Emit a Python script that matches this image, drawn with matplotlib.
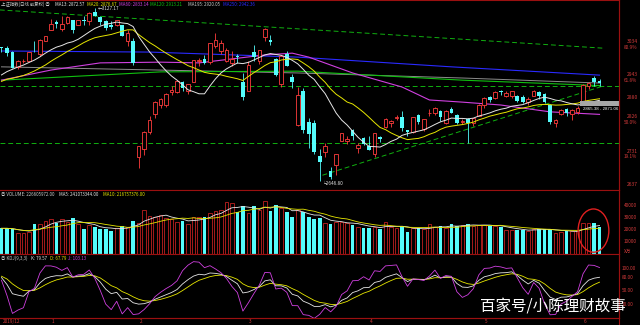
import numpy as np
import pandas as pd
import matplotlib
matplotlib.use('Agg')
import matplotlib.pyplot as plt
from matplotlib.patches import Rectangle, Ellipse
import matplotlib.transforms as mtransforms

plt.rcParams['font.family'] = ['Noto Sans CJK SC', 'DejaVu Sans']

# 上证指数 日线 2019-12-19 ~ 2020-06-04
opens = [3020, 3018, 3006, 2964, 2980, 2982, 3006, 3000, 3036,
         3067, 3089, 3070, 3086, 3094, 3082, 3095, 3091, 3117, 3103, 3091, 3080, 3080, 3081, 3038, 3037,
         2716, 2738, 2784, 2833, 2860, 2859, 2894, 2895, 2923, 2899, 2924, 2981, 2986, 2979, 3023, 3010,
         2982, 2975, 2996, 2924,
         2899, 3006, 2981, 3047, 3039, 2987, 2918, 3001, 2936, 2804, 2899, 2813, 2808, 2718, 2729, 2675,
         2692, 2759, 2759, 2790, 2739, 2767,
         2744, 2723, 2771, 2799, 2808, 2823, 2826, 2790, 2785, 2831, 2793, 2836, 2838, 2843, 2809, 2848,
         2832, 2813, 2819, 2808, 2829,
         2860, 2880, 2879, 2898, 2885, 2885, 2884, 2880, 2867, 2885, 2896, 2890, 2858, 2808, 2833, 2847,
         2835, 2840,
         2863, 2911, 2933, 2925]
highs = [3021, 3024, 3009, 2983, 2988, 3007, 3036, 3041, 3051,
         3098, 3094, 3107, 3105, 3095, 3096, 3105, 3116, 3127.17, 3105, 3094, 3091, 3096, 3081, 3066, 3045,
         2746, 2786, 2829, 2871, 2879, 2891, 2912, 2927, 2926, 2918, 2983, 2990, 2999, 3031, 3059, 3040,
         3016, 3008, 3000, 2949,
         2982, 3026, 3011, 3074, 3053, 2989, 2998, 3010, 2944, 2910, 2906, 2824, 2818, 2736, 2753, 2687,
         2723, 2781, 2773, 2791, 2754, 2771,
         2772, 2780, 2772, 2822, 2816, 2830, 2842, 2790, 2827, 2834, 2821, 2847, 2853, 2844, 2846, 2853,
         2835, 2821, 2823, 2824, 2861,
         2880, 2883, 2898, 2902, 2898, 2899, 2886, 2886, 2880, 2902, 2897, 2893, 2861, 2820, 2847, 2850,
         2848, 2855,
         2917, 2922, 2940, 2931]
lows = [3007, 2994, 2961, 2960, 2975, 2981, 3005, 2996, 3036,
        3066, 3074, 3065, 3084, 3059, 3080, 3082, 3082, 3105, 3082, 3067, 3070, 3078, 3051, 3023, 2970,
        2685, 2720, 2778, 2823, 2852, 2853, 2886, 2893, 2899, 2890, 2922, 2966, 2974, 2972, 3017, 3002,
        2978, 2966, 2975, 2873,
        2899, 2980, 2974, 3037, 3026, 2940, 2909, 2967, 2906, 2802, 2780, 2740, 2724, 2646.80, 2715, 2653,
        2664, 2758, 2752, 2762, 2727, 2747,
        2733, 2716, 2755, 2795, 2799, 2817, 2788, 2774, 2781, 2806, 2787, 2829, 2832, 2815, 2807, 2837,
        2806, 2806, 2754, 2800, 2828,
        2852, 2868, 2877, 2886, 2880, 2879, 2868, 2864, 2860, 2883, 2876, 2864, 2807, 2797, 2831, 2828,
        2818, 2835,
        2863, 2903, 2913, 2912]
closes = [3017, 3004, 2962, 2982, 2981, 3007, 3005, 3040, 3050,
          3085, 3083, 3083, 3104, 3066, 3094, 3092, 3115, 3106, 3090, 3074, 3075, 3095, 3052, 3060, 2976,
          2746, 2783, 2818, 2866, 2876, 2890, 2901, 2926, 2906, 2917, 2983, 2984, 2975, 3030, 3039, 3031,
          3013, 2987, 2991, 2880,
          2970, 2992, 3011, 3071, 3034, 2943, 2996, 2968, 2923, 2887, 2789, 2779, 2728, 2702, 2745, 2660,
          2722, 2781, 2764, 2772, 2747, 2750,
          2734, 2780, 2764, 2820, 2815, 2826, 2796, 2783, 2827, 2811, 2819, 2838, 2852, 2827, 2843, 2838,
          2808, 2815, 2810, 2822, 2860,
          2878, 2872, 2895, 2894, 2891, 2898, 2870, 2868, 2876, 2898, 2883, 2867, 2813, 2818, 2846, 2836,
          2846, 2852,
          2915, 2921, 2923, 2919]
# 成交量 (万手)
volumes = [21400, 21400, 20500, 17800, 17200, 18600, 24700, 24700, 27500,
           28900, 26100, 28900, 26900, 29700, 25000, 20800, 24200, 22800, 20800, 20800, 19400, 21400, 23600,
           22800, 27500,
           26100, 36700, 31700, 31100, 32500, 29700, 28900, 26900, 27500, 25000, 31100, 31100, 31100, 33900,
           36100, 36700, 43600, 42200, 35300, 40000,
           33900, 40300, 36700, 44200, 36100, 40800, 38100, 34700, 30500, 36700, 35300, 30500, 29200, 30300,
           25500, 25000, 26900, 26900, 25500, 24200, 22800, 21900,
           21900, 22800, 20500, 26900, 22800, 22000, 23300, 18000, 21500, 21400, 21000, 24700, 22500, 23300,
           21500, 25000, 23600, 24000, 25300, 23000, 24200,
           24200, 23600, 23000, 22800, 20000, 19800, 20000, 20000, 19500, 20800, 20800, 20800, 20800, 17500,
           18500, 19400, 19000, 19500,
           25500, 25500, 25500, 22660]
# 2019-11-21 ~ 2019-12-18 收盘价, 只用于均线起点
prior_closes = [2903, 2885, 2906, 2907, 2903, 2890, 2872, 2876, 2884, 2878,
                2899, 2912, 2915, 2917, 2925, 2915, 2968, 2984, 3022, 3017]

# 长期均线 (读图取点: 序号, 价格)
ma60_idx = [0, 9, 18, 29, 36, 48, 53, 56, 64, 73, 78, 84, 91, 100, 109]
ma60_val = [2928, 2956, 2976, 2978, 2976, 2998, 3003, 2992, 2948, 2909, 2873, 2867, 2859, 2840, 2833]
ma120_idx = [0, 29, 54, 84, 109]
ma120_val = [2928, 2951, 2953, 2928, 2913]
ma195_idx = [0, 29, 54, 84, 109]
ma195_val = [2965, 2956, 2948, 2934, 2920]
ma250_idx = [0, 27, 54, 82, 109]
ma250_val = [3009, 3006, 2992, 2965, 2942]

# 画线 (序号, 价格)
trend_top = ([-0.3, 109.5], [3123, 3017])
trend_low = ([58.5, 109.5], [2664, 2911])
level_lines = [2912, 2754]

month_idx = [0, 9, 25, 45, 67, 88, 106]
month_labels = ['2019/12', '1', '2', '3', '4', '5', '6']

price_ticks = [3034, 2943, 2880, 2826, 2731, 2637]
price_pct = ['80.9%', '61.8%', '', '50.0%', '19.1%', '']
vol_ticks = [40000, 30000, 20000, 10000]
kdj_ticks = [100, 80, 50, 20]

UP = '#ff3c3c'
DOWN = '#54fcfc'
FRAME = '#9a1010'
LABEL = '#d03a3a'
C_MA = ['#e6e6e6', '#e6e600', '#d040e0', '#10c010', '#8c8c8c', '#2a2aff']

W, H = 640, 325
fig = plt.figure(figsize=(6.4, 3.25), dpi=100, facecolor='black')


def box(x0, y0, x1, y1):
    return [x0 / W, 1 - y1 / H, (x1 - x0) / W, (y1 - y0) / H]


def ftext(x, y, s, **kw):
    return fig.text(x / W, 1 - y / H, s, **kw)


n = len(closes)
idx = np.arange(n)
o = np.array(opens, float)
h = np.array(highs, float)
l = np.array(lows, float)
c = np.array(closes, float)
v = np.array(volumes, float)
up = c >= o
xlim = (-0.27, 112.55)

ax_p = fig.add_axes(box(0, 0, 619, 190))
ax_v = fig.add_axes(box(0, 190, 619, 254))
ax_k = fig.add_axes(box(0, 254, 619, 318))
for ax in (ax_p, ax_v, ax_k):
    ax.set_facecolor('black')
    ax.set_xlim(*xlim)
    ax.set_xticks([])
    ax.set_yticks([])
    for s in ax.spines.values():
        s.set_color(FRAME)
        s.set_linewidth(0.8)
    ax.spines['left'].set_visible(False)

# ---- 价格 ----
ax_p.set_ylim(2623, 3150.6)
ax_p.vlines(idx[up], l[up], h[up], color=UP, lw=0.6, zorder=3)
ax_p.vlines(idx[~up], l[~up], h[~up], color=DOWN, lw=0.6, zorder=3)
body_lo = np.minimum(o, c)
body_h = np.maximum(np.abs(c - o), 0.8)
ax_p.bar(idx[up], body_h[up], bottom=body_lo[up], width=0.66, facecolor='black',
         edgecolor=UP, linewidth=0.6, zorder=4)
ax_p.bar(idx[~up], body_h[~up], bottom=body_lo[~up], width=0.66, color=DOWN, linewidth=0, zorder=4)

allc = pd.Series(prior_closes + closes, dtype=float)
ma13 = allc.rolling(13).mean().values[len(prior_closes):]
ma20 = allc.rolling(20).mean().values[len(prior_closes):]
ax_p.plot(ma250_idx, ma250_val, color=C_MA[5], lw=0.8, zorder=2)
ax_p.plot(ma195_idx, ma195_val, color=C_MA[4], lw=0.7, zorder=2)
ax_p.plot(ma120_idx, ma120_val, color=C_MA[3], lw=0.8, zorder=2)
ax_p.plot(ma60_idx, ma60_val, color=C_MA[2], lw=0.8, zorder=2)
ax_p.plot(idx, ma20, color=C_MA[1], lw=0.7, zorder=5)
ax_p.plot(idx, ma13, color=C_MA[0], lw=0.7, zorder=5)

dash = dict(color='#10b010', lw=0.7, dashes=(5, 3), zorder=1)
ax_p.plot(*trend_top, **dash)
ax_p.plot(*trend_low, **dash)
for lv in level_lines:
    ax_p.plot(xlim, [lv, lv], **dash)

# 缺口
ax_p.add_patch(Rectangle((105.5, 2856), 7.2, 15, facecolor='#a8a8a8', edgecolor='none', zorder=6))
ax_p.text(106.0, 2848, '2865.38 - 2871.06', color='white', fontsize=3.2, va='center', zorder=7,
          family='Liberation Sans')

ax_p.text(17.6, 3127.17, '←3127.17', color='#dddddd', fontsize=3.4, va='center', zorder=7)
ax_p.text(58.3, 2640, '└2646.80', color='#dddddd', fontsize=3.4, va='center', zorder=7)

blend = mtransforms.blended_transform_factory(fig.transFigure, ax_p.transData)
for t, pc in zip(price_ticks, price_pct):
    ax_p.text(627 / W, t, str(t), transform=blend, color=LABEL, fontsize=3.6, va='center')
    if pc:
        ax_p.text(624 / W, t - 16, pc, transform=blend, color=LABEL, fontsize=3.4, va='center')

# ---- 成交量 ----
ax_v.set_ylim(0, 53300)
ax_v.bar(idx[up], v[up], width=0.66, facecolor='black', edgecolor='#c02020', linewidth=0.6)
ax_v.bar(idx[~up], v[~up], width=0.66, color=DOWN, linewidth=0)
vs = pd.Series(v)
ax_v.plot(idx, vs.rolling(5, min_periods=1).mean(), color=C_MA[0], lw=0.6)
ax_v.plot(idx, vs.rolling(10, min_periods=1).mean(), color=C_MA[1], lw=0.6)
ax_v.add_patch(Ellipse((107.9, 19500), 5.6, 36000, facecolor='none', edgecolor='#e02020', lw=1.0,
                       clip_on=False, zorder=8))
blend_v = mtransforms.blended_transform_factory(fig.transFigure, ax_v.transData)
for t in vol_ticks:
    ax_v.text(624 / W, t, str(t), transform=blend_v, color=LABEL, fontsize=3.4, va='center')
ax_v.text(624 / W, 2000, 'X万', transform=blend_v, color=LABEL, fontsize=3.4, va='center')

# ---- KDJ ----
hh = pd.Series(h).rolling(9, min_periods=1).max()
ll = pd.Series(l).rolling(9, min_periods=1).min()
rsv = ((pd.Series(c) - ll) / (hh - ll) * 100).values
K = np.zeros(n)
D = np.zeros(n)
k_prev, d_prev = 85.0, 85.0
for i in range(n):
    k_prev = (2 * k_prev + rsv[i]) / 3
    d_prev = (2 * d_prev + k_prev) / 3
    K[i], D[i] = k_prev, d_prev
J = 3 * K - 2 * D
ax_k.set_ylim(-11.4, 134)
ax_k.plot(idx, D, color=C_MA[1], lw=0.6)
ax_k.plot(idx, K, color=C_MA[0], lw=0.6)
ax_k.plot(idx, J, color=C_MA[2], lw=0.6)
blend_k = mtransforms.blended_transform_factory(fig.transFigure, ax_k.transData)
for t in kdj_ticks:
    ax_k.text(622 / W, t, '%.2f' % t, transform=blend_k, color=LABEL, fontsize=3.4, va='center')

# 日期
fig.add_artist(plt.Line2D([0, 619 / W], [1 - 318 / H] * 2, color=FRAME, lw=0.8))
fig.add_artist(plt.Line2D([619 / W] * 2, [0, 1], color=FRAME, lw=0.8))
for mi, ml in zip(month_idx, month_labels):
    xp = 1.5 + 5.485 * mi
    ftext(xp + 1, 321.5, ml, color=LABEL, fontsize=3.4, va='center')


# 标题 (各段起点按图中位置)
def title_row(y, parts):
    for x, s, col in parts:
        ftext(x, y, s, color=col, fontsize=3.2, va='center', family=['Noto Sans CJK SC', 'Liberation Sans'])


title_row(4.5, [(1, '上证指数(日线 前复权) ◎', '#cccccc'), (55, 'MA13: 2872.57', C_MA[0]),
                (87, 'MA20: 2876.67', C_MA[1]), (119, 'MA60: 2833.14', C_MA[2]),
                (150, 'MA120: 2913.21', C_MA[3]), (188, 'MA195: 2920.05', '#cccccc'),
                (223, 'MA250: 2942.36', C_MA[5])])
title_row(194, [(1, '◎ VOLUME: 226605972.00', '#cccccc'), (59, 'MA5: 241073344.00', C_MA[0]),
                (103, 'MA10: 216757376.00', C_MA[1])])
title_row(258, [(1, '◎ KDJ(9,3,3)', '#cccccc'), (31, 'K: 79.57', C_MA[0]), (50, 'D: 67.79', C_MA[1]),
                (68, 'J: 103.13', C_MA[2])])

ftext(553, 307, '百家号/小陈理财故事', color='white', fontsize=11.2, ha='center', va='center',
      family=['Noto Sans CJK SC'])

fig.savefig('out.png', dpi=100, facecolor='black')
